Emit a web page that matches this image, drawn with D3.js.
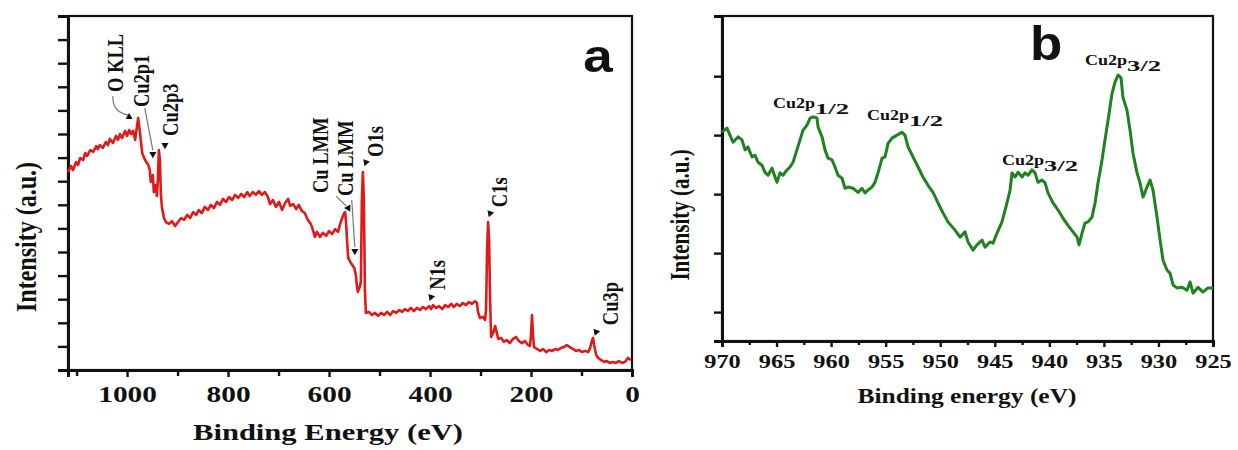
<!DOCTYPE html>
<html><head><meta charset="utf-8">
<script src="https://cdn.jsdelivr.net/npm/d3@7"></script>
<style>
body{margin:0;background:#fff}
svg{display:block}
text{font-family:'Liberation Serif','Times New Roman',serif;font-weight:bold;fill:#111}
</style>
</head><body>
<svg id="c" width="1238" height="450"></svg>
<script>
// ---------- Panel a: XPS survey ----------
const surveyE = [
 1117,1111,1107,1101,1097,1093,1087,1083,1079,1073,
 1067,1061,1058,1054,1048,1042,1038,1034,1028,1022,
 1018,1014,1010,1004,1000,996,992,988,984,980,
 978,974,970,966,962,958,955,953,949,947,
 943,941,939,937,935,933,931,927,923,917,
 911,905,899,893,887,881,875,869,863,858,
 852,846,840,834,828,822,816,810,804,798,
 792,786,780,774,768,762,757,751,745,739,
 733,727,721,717,711,705,699,693,687,681,
 677,671,665,660,654,648,642,636,632,628,
 624,618,612,606,600,594,588,582,578,574,
 570,568,566,564,562,558,554,550,547,545,
 543,539,537,535,533,531,529,527,521,515,
 509,503,497,491,485,479,473,467,461,455,
 450,444,438,432,426,420,414,408,402,398,
 394,388,382,376,370,364,358,353,347,341,
 335,329,323,317,311,307,305,301,295,291,
 289,287,285,283,281,279,275,271,269,265,
 259,254,248,242,236,230,224,218,212,206,
 202,200,198,196,194,188,182,176,170,164,
 158,152,147,141,135,129,123,117,111,105,
 99,93,87,83,79,77,75,71,67,61,
 55,50,44,38,32,26,20,14,8,2];
const surveyI = [
 8.39,8.64,8.47,8.81,8.69,8.98,8.90,9.19,9.07,9.32,
 9.24,9.49,9.36,9.53,9.41,9.66,9.53,9.79,9.62,9.92,
 9.75,10.0,9.83,10.13,9.92,10.17,10.0,10.13,9.75,10.38,
 10.68,9.96,9.19,8.98,8.81,8.69,8.47,7.97,8.26,7.54,
 7.84,7.37,8.05,9.32,8.90,7.42,6.91,6.44,6.27,6.19,
 6.31,6.10,6.27,6.44,6.36,6.57,6.44,6.69,6.57,6.78,
 6.65,6.91,6.78,7.0,6.86,7.12,7.0,7.25,7.12,7.33,
 7.20,7.42,7.29,7.46,7.33,7.54,7.37,7.54,7.42,7.58,
 7.42,7.54,7.33,7.03,7.20,6.91,7.12,6.78,7.08,7.25,
 6.95,7.03,6.82,7.0,6.74,6.65,6.36,6.19,5.93,5.64,
 5.85,5.64,5.81,5.68,5.89,5.76,5.97,5.85,6.19,6.44,
 6.65,6.69,6.14,5.38,4.75,4.58,4.45,4.32,4.03,3.60,
 3.31,3.52,3.73,7.20,8.39,7.20,3.39,2.42,2.46,2.33,
 2.42,2.29,2.42,2.33,2.46,2.33,2.50,2.42,2.54,2.46,
 2.58,2.50,2.63,2.50,2.63,2.54,2.67,2.58,2.71,2.58,
 2.75,2.63,2.71,2.58,2.75,2.67,2.80,2.67,2.80,2.71,
 2.84,2.75,2.88,2.80,2.92,2.84,2.46,2.20,2.25,2.12,
 2.54,5.08,6.27,5.51,2.97,1.40,1.57,1.86,1.69,1.31,
 1.36,1.19,1.27,1.14,1.31,1.40,1.23,1.14,1.23,1.06,
 1.02,1.48,2.33,1.48,0.97,0.89,0.81,0.89,0.76,0.85,
 0.81,0.89,0.85,0.93,0.97,1.06,0.97,0.89,0.81,0.85,
 0.76,0.81,0.76,0.93,1.27,1.36,1.06,0.64,0.51,0.42,
 0.34,0.38,0.30,0.34,0.30,0.38,0.30,0.34,0.51,0.42];
const surveyTicks = [1000,800,600,400,200,0];
const surveyMinorTicks = [1100,900,700,500,300,100];
const surveyYTicks = [0,1,2,3,4,5,6,7,8,9,10,11,12,13,14,15];

// peak labels of panel a (rotated), anchored in data units
const peakNames = ["O KLL","Cu2p1","Cu2p3","Cu LMM","Cu LMM","O1s","C1s","N1s","Cu3p"];
const peakLabelE = [1024,972,915,618,568,509,263,386,44];
const peakLabelI = [11.78,11.14,9.92,7.50,7.37,9.03,6.90,3.40,1.90];
const peakMarkE = [996,949,925,562,549,527,281,398,71];
const peakMarkI = [10.72,9.15,9.53,6.86,5.04,8.80,6.64,3.09,1.61];

// ---------- Panel b: Cu 2p ----------
const cuE = [
 970.00,969.54,969.27,968.99,968.53,968.17,967.89,967.62,967.25,966.98,
 966.70,966.33,966.06,965.78,965.42,965.14,964.96,964.68,964.41,964.04,
 963.77,963.49,963.13,962.85,962.58,962.21,961.93,961.66,961.29,961.20,
 960.83,960.56,960.28,959.92,959.64,959.37,959.00,958.73,958.45,957.99,
 957.53,957.17,956.89,956.62,956.25,955.98,955.70,955.33,955.06,954.78,
 954.42,953.96,953.50,953.23,952.95,952.49,952.03,951.58,951.12,950.66,
 950.20,949.74,949.29,948.64,948.18,947.73,947.45,946.99,946.63,946.17,
 945.89,945.44,945.16,944.79,944.34,943.88,943.60,943.42,943.14,942.87,
 942.50,942.23,941.95,941.59,941.31,941.04,940.67,940.39,940.12,939.66,
 939.20,938.74,938.29,937.83,937.46,937.28,937.00,936.73,936.45,936.09,
 935.81,935.54,935.17,934.90,934.62,934.25,933.98,933.70,933.43,933.25,
 932.88,932.60,932.33,931.96,931.69,931.41,931.05,930.77,930.50,930.13,
 929.85,929.58,929.21,928.94,928.66,928.30,927.84,927.38,927.10,926.83,
 926.37,925.92,925.46,925.00];
const cuI = [
 3.05,3.12,3.00,2.88,2.97,2.92,2.75,2.80,2.63,2.66,
 2.54,2.49,2.37,2.32,2.44,2.29,2.20,2.36,2.32,2.41,
 2.46,2.54,2.75,2.92,3.08,3.17,3.29,3.31,3.29,3.14,
 2.97,2.75,2.61,2.58,2.46,2.32,2.27,2.10,2.12,2.10,
 2.03,2.10,2.02,2.07,2.12,2.20,2.36,2.61,2.63,2.86,
 2.95,3.00,3.05,3.00,2.80,2.63,2.46,2.29,2.15,2.03,
 1.85,1.68,1.53,1.39,1.27,1.36,1.19,1.05,1.14,1.22,
 1.10,1.19,1.17,1.34,1.53,1.85,2.07,2.36,2.29,2.37,
 2.29,2.36,2.32,2.41,2.36,2.20,2.24,2.19,2.02,1.85,
 1.73,1.59,1.47,1.36,1.27,1.14,1.34,1.51,1.53,1.61,
 1.85,2.19,2.58,2.92,3.25,3.71,3.90,4.02,3.97,3.64,
 3.42,3.08,2.69,2.36,2.19,1.95,2.12,2.24,2.07,1.61,
 1.22,0.88,0.71,0.66,0.46,0.41,0.42,0.37,0.51,0.32,
 0.42,0.34,0.41,0.41];
const cuTicks = [970,965,960,955,950,945,940,935,930,925];
const cuMinorTicks = [967.5,962.5,957.5,952.5,947.5,942.5,937.5,932.5,927.5];
const cuYTicks = [0,1,2,3,4];
const cuSubs = ["1/2","1/2","3/2","3/2"];
const cuLabelE = [965.33,956.71,944.34,936.73];
const cuLabelI = [3.46,3.25,2.49,4.19];

const svg = d3.select("#c");
const SX = 1.25;

// ================= Panel a =================
const xa = d3.scaleLinear().domain([1117,0]).range([68,632]);
const ya = d3.scaleLinear().domain([0,15]).range([370,16]);

svg.append("rect").attr("x",68).attr("y",16).attr("width",632-68).attr("height",370-16)
  .attr("fill","none").attr("stroke","#111").attr("stroke-width",2.2);

const axA = svg.append("g").attr("transform","translate(0,370)")
  .call(d3.axisBottom(xa).tickValues(surveyTicks).tickSize(7).tickFormat(d3.format("d")));
axA.selectAll("text").attr("y",32).attr("dy",0).style("font-size","23.5px")
  .attr("transform",`scale(${SX},1)`);
svg.append("g").attr("transform","translate(0,370)")
  .call(d3.axisBottom(xa).tickValues(surveyMinorTicks).tickSize(6).tickFormat(""))
  .select(".domain").remove();
svg.append("g").attr("transform","translate(68,0)")
  .call(d3.axisLeft(ya).tickValues(surveyYTicks).tickSize(10).tickFormat(""));
svg.selectAll(".domain").attr("stroke-width",3).attr("stroke","#111");
svg.selectAll(".tick line").attr("stroke-width",2.4).attr("stroke","#111");

const lineA = d3.line().x((d,i)=>xa(surveyE[i])).y((d,i)=>ya(surveyI[i]));
svg.append("path").datum(surveyE).attr("d",lineA)
  .attr("fill","none").attr("stroke","#de1a1a").attr("stroke-width",2.6)
  .attr("stroke-linejoin","round");

// leader lines (data units)
const gl = svg.append("g").attr("fill","none").attr("stroke","#777").attr("stroke-width",1.2);
const pth = d3.path();
pth.moveTo(xa(1028),ya(11.61)); pth.quadraticCurveTo(xa(1030),ya(10.93),xa(998),ya(10.80));
pth.moveTo(xa(965),ya(11.10)); pth.lineTo(xa(949),ya(9.32));
pth.moveTo(xa(586),ya(7.37)); pth.lineTo(xa(566),ya(6.95));
pth.moveTo(xa(555),ya(7.20)); pth.lineTo(xa(549),ya(5.21));
gl.append("path").attr("d",pth.toString());

const markAngles = [120,180,180,150,180,200,200,200,200];
peakMarkE.forEach((e,i)=>{
  svg.append("path").attr("d",d3.symbol().type(d3.symbolTriangle).size(22)())
    .attr("transform",`translate(${xa(e)},${ya(peakMarkI[i])}) rotate(${markAngles[i]})`)
    .attr("fill","#111");
});
peakNames.forEach((n,i)=>{
  svg.append("text").text(n)
    .attr("transform",`translate(${xa(peakLabelE[i])},${ya(peakLabelI[i])}) scale(${SX},1) rotate(-90)`)
    .attr("dy","0.35em").style("font-size","18.5px");
});

svg.append("text").text("Binding Energy (eV)").attr("x",328).attr("y",440)
  .attr("text-anchor","middle").style("font-size","24px")
  .attr("textLength",270).attr("lengthAdjust","spacingAndGlyphs");
svg.append("text").text("Intensity (a.u.)")
  .attr("transform",`translate(25,237) scale(${SX},1) rotate(-90)`)
  .attr("text-anchor","middle").attr("dy","0.35em").style("font-size","24px");
svg.append("text").text("a").attr("transform",`translate(598,72) scale(1.15,1)`)
  .attr("text-anchor","middle").style("font-family","'Liberation Sans',Arial,sans-serif")
  .style("font-size","46px");

// ================= Panel b =================
const xb = d3.scaleLinear().domain([970,925]).range([722,1213]);
const yb = d3.scaleLinear().domain([-0.49,5.02]).range([341,16]);

svg.append("rect").attr("x",722).attr("y",16).attr("width",1213-722).attr("height",341-16)
  .attr("fill","none").attr("stroke","#111").attr("stroke-width",2.2);
const axB = svg.append("g").attr("class","bx").attr("transform","translate(0,341)")
  .call(d3.axisBottom(xb).tickValues(cuTicks).tickSize(6).tickFormat(d3.format("d")));
axB.selectAll("text").attr("y",27).attr("dy",0).style("font-size","19.5px")
  .attr("transform",`scale(${SX},1)`);
svg.append("g").attr("class","bx").attr("transform","translate(0,341)")
  .call(d3.axisBottom(xb).tickValues(cuMinorTicks).tickSize(4).tickFormat(""))
  .select(".domain").remove();
svg.append("g").attr("class","bx").attr("transform","translate(722,0)")
  .call(d3.axisLeft(yb).tickValues(cuYTicks).tickSize(8).tickFormat(""));
svg.selectAll(".bx .domain").attr("stroke-width",3).attr("stroke","#111");
svg.selectAll(".bx .tick line").attr("stroke-width",2.4).attr("stroke","#111");

const lineB = d3.line().x((d,i)=>xb(cuE[i])).y((d,i)=>yb(cuI[i]));
svg.append("path").datum(cuE).attr("d",lineB)
  .attr("fill","none").attr("stroke","#1e821f").attr("stroke-width",3)
  .attr("stroke-linejoin","round");

cuSubs.forEach((s,i)=>{
  const x0 = xb(cuLabelE[i]), y0 = yb(cuLabelI[i]);
  svg.append("text").text("Cu2p").attr("x",x0).attr("y",y0).style("font-size","15.5px")
    .attr("textLength",42).attr("lengthAdjust","spacingAndGlyphs");
  svg.append("text").text(s).attr("x",x0+42).attr("y",y0+6).style("font-size","15px")
    .attr("textLength",34).attr("lengthAdjust","spacingAndGlyphs");
});

svg.append("text").text("Binding energy (eV)").attr("x",967).attr("y",403)
  .attr("text-anchor","middle").style("font-size","20px")
  .attr("textLength",219).attr("lengthAdjust","spacingAndGlyphs");
svg.append("text").text("Intensity (a.u.)")
  .attr("transform",`translate(680,215) scale(${SX},1) rotate(-90)`)
  .attr("text-anchor","middle").attr("dy","0.35em").style("font-size","21px");
svg.append("text").text("b").attr("transform",`translate(1046,60) scale(1.1,1)`)
  .attr("text-anchor","middle").style("font-family","'Liberation Sans',Arial,sans-serif")
  .style("font-size","48px");
</script>
</body></html>
